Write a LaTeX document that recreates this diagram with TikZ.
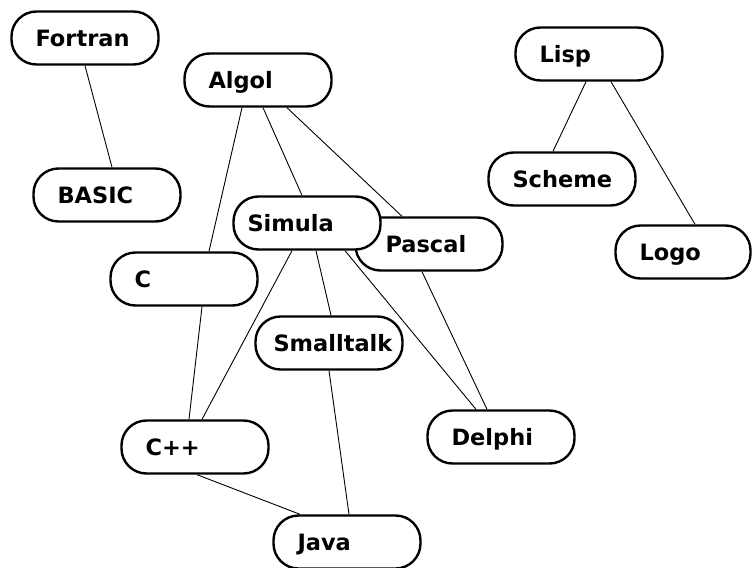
\documentclass[tikz,border=0pt]{standalone}
\usepackage{fontspec}
\newfontfamily\langfont{DejaVu Sans}
\usetikzlibrary{calc}

\begin{document}
\begin{tikzpicture}[x=1pt,y=-1pt,
    lang/.style={draw,line width=2.4pt,rounded corners=25pt,fill=white,
      minimum height=53pt,text width=99pt,inner xsep=24pt,inner ysep=0pt,
      text height=16pt,text depth=0pt,align=left,
      font=\langfont\bfseries\fontsize{22.5}{22.5}\selectfont},
    conn/.style={line width=0.9pt}]
        \useasboundingbox (0,0) rectangle (753,568);

        \node[lang] (fortran) at (85,38) {Fortran};
        \node[lang] (algol) at (258,80) {Algol};
        \node[lang] (basic) at (107,195) {BASIC};
        \node[lang] (lisp) at (589,54) {Lisp};
        \node[lang] (scheme) at (562,179) {Scheme};
        \node[lang,text width=87pt] (logo) at (683,252) {Logo};
        \node[lang] (pascal) at (429,244) {\hspace*{6pt}Pascal};
        \node[lang] (simula) at (307,223) {\hspace*{-10pt}Simula};
        \node[lang] (c) at (184,279) {C};
        \node[lang] (smalltalk) at (329,343) {\hspace*{-6pt}Smalltalk};
        \node[lang] (cpp) at (195,447) {C++};
        \node[lang] (delphi) at (501,437) {Delphi};
        \node[lang] (java) at (347,542) {Java};

        \path[conn] ([xshift=0pt]fortran.south) edge ([xshift=5pt]basic.north);
        \path[conn] ([xshift=-16pt]algol.south) edge ([xshift=25pt]c.north);
        \path[conn] ([xshift=5pt]algol.south) edge ([xshift=-5pt]simula.north);
        \path[conn] ([xshift=29pt]algol.south) edge ([xshift=-27pt]pascal.north);
        \path[conn] ([xshift=-3pt]lisp.south) edge ([xshift=-9pt]scheme.north);
        \path[conn] ([xshift=22pt]lisp.south) edge ([xshift=12pt]logo.north);
        \path[conn] ([xshift=-15pt]simula.south) edge ([xshift=7pt]cpp.north);
        \path[conn] ([xshift=9pt]simula.south) edge ([xshift=2pt]smalltalk.north);
        \path[conn] ([xshift=38pt]simula.south) edge ([xshift=-25pt]delphi.north);
        \path[conn] ([xshift=-7pt]pascal.south) edge ([xshift=-14pt]delphi.north);
        \path[conn] ([xshift=18pt]c.south) edge ([xshift=-6pt]cpp.north);
        \path[conn] ([xshift=0pt]smalltalk.south) edge ([xshift=2pt]java.north);
        \path[conn] ([xshift=2pt]cpp.south) edge ([xshift=-47pt]java.north);
      \end{tikzpicture}
\end{document}
